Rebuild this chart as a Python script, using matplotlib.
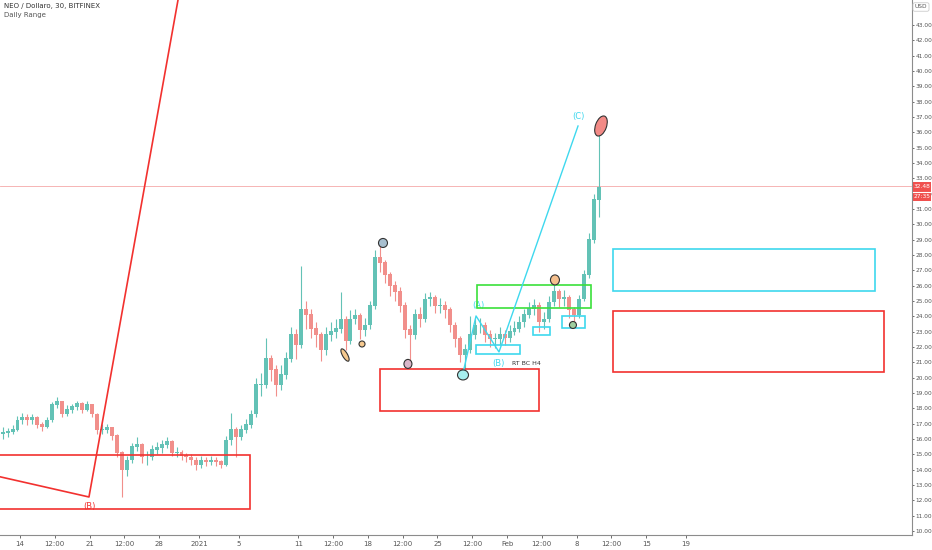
"""
NEO / Dollaro 30m chart with Elliott-style annotations (TradingView look).
"""

import matplotlib
matplotlib.use("Agg")
import matplotlib.pyplot as plt
import matplotlib.patches as mpatches
import matplotlib.transforms as mtransforms
import numpy as np

# --- data: 12h candles, day offsets from 14 Dec 2020 ---
start_day = -2.0
step_day = 0.5

closes = [
    16.4, 16.45, 16.6, 17.2, 17.4, 17.2, 17.4, 16.9, 16.8, 17.2,
    18.2, 18.4, 17.6, 17.9, 18.1, 18.3, 17.9, 18.2, 17.6, 16.6,
    16.6, 16.7, 16.2, 15.1, 14.0, 14.6, 15.5, 15.6, 14.8, 14.8,
    15.3, 15.4, 15.6, 15.8, 15.1, 15.1, 14.9, 14.8, 14.6, 14.3,
    14.6, 14.5, 14.6, 14.5, 14.3, 15.9, 16.6, 16.1, 16.6, 16.9,
    17.6, 19.5, 19.5, 21.2, 20.5, 19.5, 20.2, 21.2, 22.8, 22.1,
    24.4, 24.1, 23.2, 22.8, 21.8, 22.8, 23.0, 23.2, 23.8, 22.4,
    23.8, 24.0, 23.1, 23.4, 24.7, 27.8, 27.5, 26.7, 26.0, 25.6,
    24.7, 23.1, 22.8, 24.1, 23.8, 25.1, 25.2, 24.7, 24.7, 24.4,
    23.4, 22.5, 21.5, 21.8, 22.8, 23.4, 23.4, 22.8, 22.5, 22.5,
    22.8, 22.6, 23.0, 23.2, 23.6, 24.1, 24.5, 24.7, 23.6, 23.8,
    24.9, 25.6, 25.1, 25.2, 24.4, 24.1, 25.1, 26.7, 29.0, 31.6,
    32.4,
]
first_open = 16.3
highs = [
    16.8, 16.7, 16.9, 17.5, 17.7, 17.6, 17.6, 17.5, 17.1, 17.4,
    18.4, 18.7, 18.5, 18.2, 18.3, 18.5, 18.4, 18.5, 18.3, 17.7,
    17.0, 17.0, 16.8, 16.3, 15.2, 14.9, 15.7, 16.1, 15.7, 15.2,
    15.6, 15.8, 15.9, 16.1, 15.9, 15.5, 15.3, 15.1, 15.0, 14.8,
    14.9, 14.8, 14.9, 14.8, 14.6, 16.2, 17.7, 16.8, 16.9, 17.3,
    17.9, 20.0, 20.3, 22.6, 21.5, 20.8, 20.8, 21.7, 23.3, 23.2,
    27.3, 25.0, 24.5, 23.6, 23.0, 23.3, 23.6, 23.8, 25.6, 24.0,
    24.4, 24.5, 24.2, 23.9, 25.0, 28.3, 28.6, 27.7, 26.9, 26.3,
    25.9, 24.9, 23.4, 24.5, 24.6, 25.5, 25.6, 25.4, 25.2, 25.0,
    24.6, 23.6, 22.7, 22.2, 24.0, 23.8, 23.9, 23.6, 23.1, 22.9,
    23.3, 23.1, 23.4, 23.7, 24.0, 24.5, 24.9, 25.1, 24.9, 24.3,
    25.3, 26.2, 25.8, 25.7, 25.4, 24.6, 25.4, 27.0, 29.4, 32.0,
    35.8,
]
lows = [
    16.0, 16.1, 16.3, 16.5, 17.0, 16.9, 17.0, 16.7, 16.5, 16.7,
    17.1, 18.0, 17.4, 17.5, 17.7, 17.9, 17.7, 17.8, 17.4, 16.3,
    16.3, 16.4, 15.9, 14.8, 12.2, 13.6, 14.4, 15.2, 14.4, 14.3,
    14.6, 15.0, 15.1, 15.4, 14.9, 14.8, 14.6, 14.5, 14.3, 14.0,
    14.1, 14.2, 14.3, 14.2, 14.1, 14.2, 15.6, 14.8, 15.9, 16.4,
    16.7, 17.4, 18.8, 19.3, 19.8, 18.8, 19.2, 19.9, 21.0, 21.2,
    21.9, 23.2, 22.6, 22.0, 21.1, 21.5, 22.4, 22.6, 22.9, 21.8,
    22.2, 23.5, 22.5, 22.7, 23.2, 24.5, 26.9, 26.2, 25.3, 25.0,
    24.3, 22.6, 21.0, 22.5, 23.3, 23.6, 24.7, 24.2, 24.2, 23.9,
    23.0, 22.0, 21.0, 20.4, 21.6, 22.5, 22.9, 22.3, 22.0, 21.9,
    22.1, 22.1, 22.3, 22.8, 23.0, 23.3, 23.9, 24.1, 23.0, 23.2,
    23.6, 24.7, 24.6, 24.7, 23.9, 23.6, 23.9, 25.0, 26.5, 28.8,
    30.5,
]
last_price = 32.48

tick_days = [0, 3.5, 7, 10.5, 14, 18, 22, 28, 31.5, 35, 38.5, 42, 45.5,
             49, 52.5, 56, 59.5, 63, 67]
tick_labels = ["14", "12:00", "21", "12:00", "28", "2021", "5", "11", "12:00",
               "18", "12:00", "25", "12:00", "Feb", "12:00", "8", "12:00",
               "15", "19"]
price_ticks = list(range(10, 44))

RED = "#f2312f"
GREEN = "#3be03b"
CYAN = "#3ed8ee"

fig = plt.figure(figsize=(9.32, 5.5), dpi=100)
ax = fig.add_axes([0, 15 / 550, 912 / 932, 535 / 550])
ax.set_xlim(-2.01, 89.74)
ax.set_ylim(9.73, 44.63)

# candles
t = start_day + step_day * np.arange(len(closes)) + step_day / 2
c = np.array(closes)
o = np.concatenate([[first_open], c[:-1]])
up = c >= o
cols = np.where(up, "#63c2b6", "#f18f8b")
ax.vlines(t, lows, highs, colors=cols, linewidth=0.8, zorder=2)
ax.bar(t, np.abs(c - o) + 0.05, bottom=np.minimum(o, c), width=0.4,
       color=cols, linewidth=0, zorder=3)

ax.axhline(last_price, color="#f5a8a8", linewidth=0.6, zorder=1)


def rect(x0, x1, y0, y1, color):
    ax.add_patch(mpatches.Rectangle((x0, y0), x1 - x0, y1 - y0, fill=False,
                                    edgecolor=color, linewidth=1.2, zorder=4))


rect(-3.0, 23.14, 11.45, 14.95, RED)
rect(36.2, 52.2, 17.82, 20.56, RED)
rect(59.66, 86.92, 20.36, 24.34, RED)
rect(45.98, 57.44, 24.54, 26.04, GREEN)
rect(45.88, 50.30, 21.54, 22.13, CYAN)
rect(51.61, 53.32, 22.78, 23.30, CYAN)
rect(54.53, 56.84, 23.24, 24.02, CYAN)
rect(59.66, 86.02, 25.65, 28.39, CYAN)

# red wave line
ax.plot([-2.5, 6.94, 16.0], [13.6, 12.21, 45.0], color=RED, linewidth=1.2, zorder=4)
ax.text(6.94, 11.56, "(B)", color=RED, fontsize=6, ha="center", va="center")

# cyan ABC
ax.plot([44.57, 45.88, 48.19, 56.14], [20.30, 24.02, 21.67, 36.41],
        color=CYAN, linewidth=1.0, zorder=4)
ax.text(46.08, 24.67, "(A)", color=CYAN, fontsize=6, ha="center", va="center")
ax.text(48.09, 20.95, "(B)", color=CYAN, fontsize=6, ha="center", va="center")
ax.text(56.14, 37.0, "(C)", color=CYAN, fontsize=6, ha="center", va="center")
ax.text(51.0, 20.95, "RT BC H4", color="#333333", fontsize=4.5, ha="center", va="center")


def blob(d, p, w_px, h_px, angle, face):
    tr = fig.dpi_scale_trans + mtransforms.ScaledTranslation(d, p, ax.transData)
    ax.add_patch(mpatches.Ellipse((0, 0), w_px / 100, h_px / 100, angle=angle,
                                  facecolor=face, edgecolor="#333333",
                                  linewidth=0.8, transform=tr, zorder=5))


blob(36.52, 28.78, 9, 9, 0, "#a8bfcf")
blob(32.70, 21.47, 5, 14, 30, "#f6c98f")
blob(34.41, 22.19, 6, 6, 0, "#f6c98f")
blob(39.03, 20.89, 8, 9, 0, "#d9b6c9")
blob(44.57, 20.17, 11, 10, 0, "#a6eeee")
blob(53.82, 26.37, 9, 10, 0, "#f6c08e")
blob(55.63, 23.43, 7, 7, 0, "#9fcf9f")
blob(58.45, 36.41, 11, 21, -20, "#f28a86")

# axes styling
for side in ("top", "left"):
    ax.spines[side].set_visible(False)
for side in ("right", "bottom"):
    ax.spines[side].set_color("#8c8c8c")
    ax.spines[side].set_linewidth(0.8)
ax.yaxis.tick_right()
ax.set_yticks(price_ticks)
ax.set_yticklabels([f"{v:.2f}" for v in price_ticks])
ax.set_xticks(tick_days)
ax.set_xticklabels(tick_labels)
ax.tick_params(axis="x", labelsize=5, colors="#555555", length=2, width=0.6, pad=2)
ax.tick_params(axis="y", labelsize=4.2, colors="#555555", length=1.5, width=0.6, pad=1.2)

# last price / countdown tags (cover the 32.00 tick label like the platform does)
fig.patches.append(mpatches.Rectangle((913 / 932, 1 - 201 / 550), 18 / 932, 19 / 550,
                                      transform=fig.transFigure, facecolor="#f0504e",
                                      edgecolor="none", zorder=5))
fig.lines.append(plt.Line2D([913 / 932, 931 / 932], [1 - 191.5 / 550] * 2,
                            transform=fig.transFigure, color="white", lw=0.8, zorder=6))
fig.text(922 / 932, 1 - 186.5 / 550, "32.48", fontsize=4.2, color="white",
         ha="center", va="center", zorder=7)
fig.text(922 / 932, 1 - 196.5 / 550, "27:35", fontsize=4.2, color="white",
         ha="center", va="center", zorder=7)

fig.text(921 / 932, 1 - 7 / 550, "USD", fontsize=4.2, color="#555555",
         ha="center", va="center",
         bbox=dict(boxstyle="round,pad=0.3", fc="white", ec="#cccccc", lw=0.6))
fig.text(4 / 932, 1 - 6 / 550, "NEO / Dollaro, 30, BITFINEX", fontsize=5,
         color="#333333", va="center")
fig.text(4 / 932, 1 - 15 / 550, "Daily Range", fontsize=5, color="#555555", va="center")

fig.savefig("out.png", dpi=100)
